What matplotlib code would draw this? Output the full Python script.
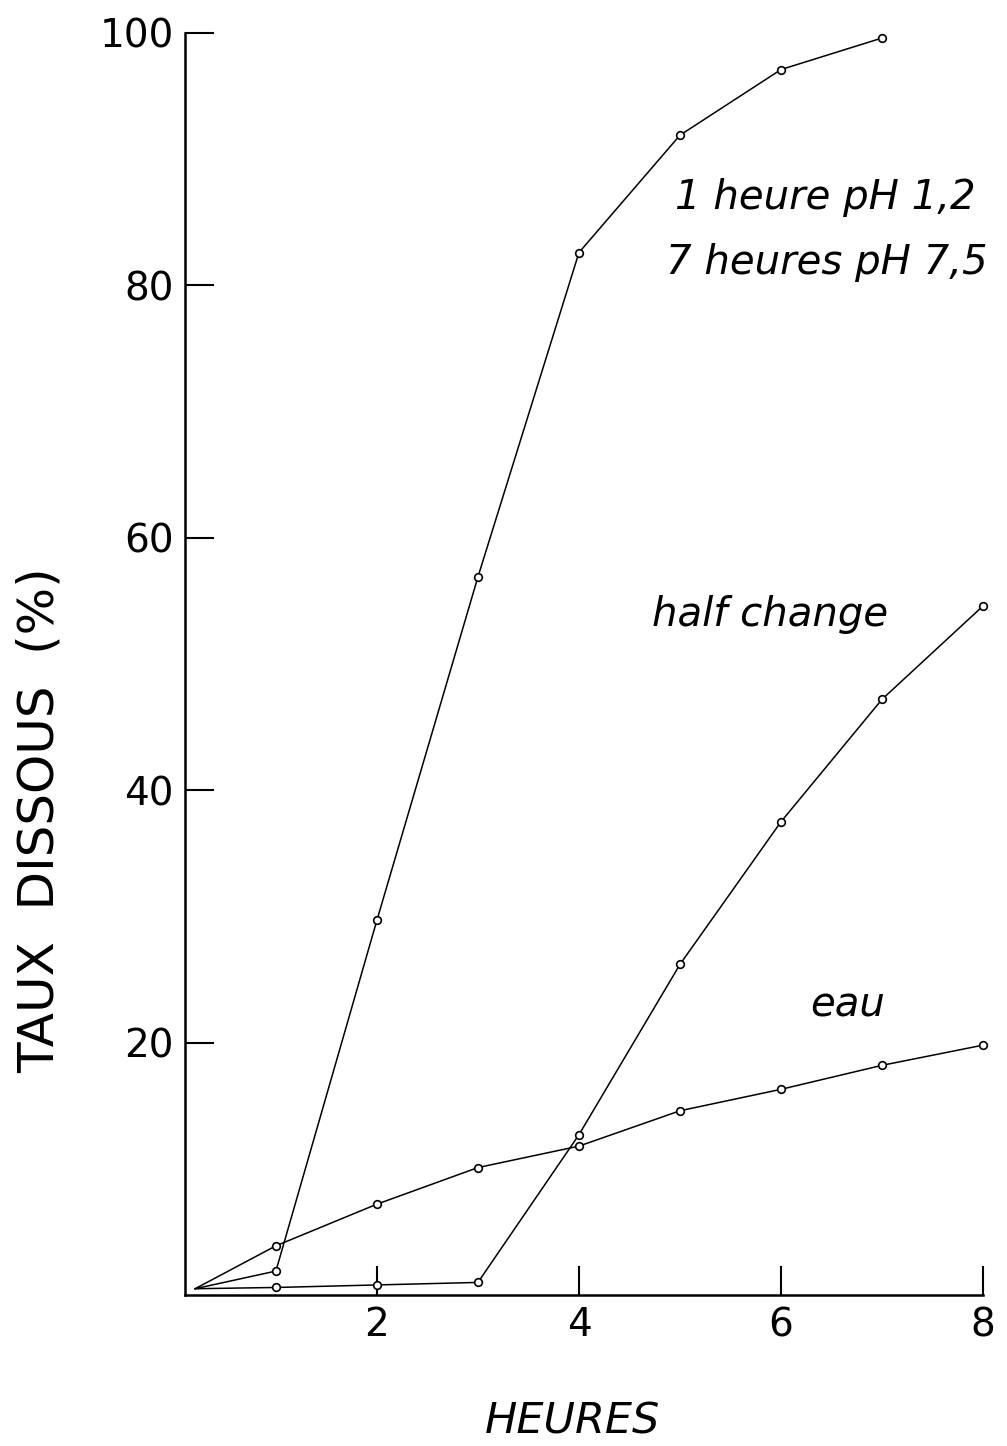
import matplotlib
matplotlib.use("Agg")
import matplotlib.pyplot as plt

# hours (the three curves all leave from the same start point)
heures = [0.2, 1, 2, 3, 4, 5, 6, 7, 8]
heures_ph = [0.2, 1, 2, 3, 4, 5, 6, 7]

# taux dissous (%)
ph_change = [0.5, 1.9, 29.7, 56.9, 82.6, 91.9, 97.1, 99.6]
half_change = [0.5, 0.6, 0.8, 1.0, 12.7, 26.2, 37.5, 47.2, 54.6]
eau = [0.5, 3.9, 7.2, 10.1, 11.8, 14.6, 16.3, 18.2, 19.8]

x_ticks = [2, 4, 6, 8]
y_ticks = [20, 40, 60, 80, 100]

fig = plt.figure(figsize=(10.07, 14.46), dpi=100)
ax = fig.add_axes([0.1837, 0.1044, 0.7925, 0.8728])

line_kw = dict(color="black", lw=1.1, marker="o", markersize=5.5,
               mfc="white", mec="black", mew=1.2, clip_on=False)
for xs, ys in [(heures_ph, ph_change), (heures, half_change), (heures, eau)]:
    ax.plot(xs, ys, markevery=list(range(1, len(xs))), **line_kw)

ax.set_xlim(0.1, 8)
ax.set_ylim(0, 100)
ax.set_xticks(x_ticks)
ax.set_yticks(y_ticks)
ax.set_xticklabels([str(v) for v in x_ticks])
ax.set_yticklabels([str(v) for v in y_ticks])

for side in ["top", "right"]:
    ax.spines[side].set_visible(False)
for side in ["left", "bottom"]:
    ax.spines[side].set_linewidth(1.8)

ax.tick_params(direction="in", length=21, width=1.5, labelsize=28, pad=8)

txt = dict(fontsize=29, style="oblique", color="black")
ax.text(7.93, 87.0, "1 heure pH 1,2", ha="right", va="center", **txt)
ax.text(8.05, 81.8, "7 heures pH 7,5", ha="right", va="center", **txt)
ax.text(4.72, 53.9, "half change", ha="left", va="center", **txt)
ax.text(6.29, 23.0, "eau", ha="left", va="center", **txt)

fig.text(40 / 1007, 1 - 820 / 1446, "TAUX  DISSOUS  (%)", rotation=90,
         ha="center", va="center", fontsize=36)
fig.text(572 / 1007, 1 - 1422 / 1446, "HEURES", ha="center", va="center",
         fontsize=31, style="oblique")

fig.savefig("out.png", dpi=100)
